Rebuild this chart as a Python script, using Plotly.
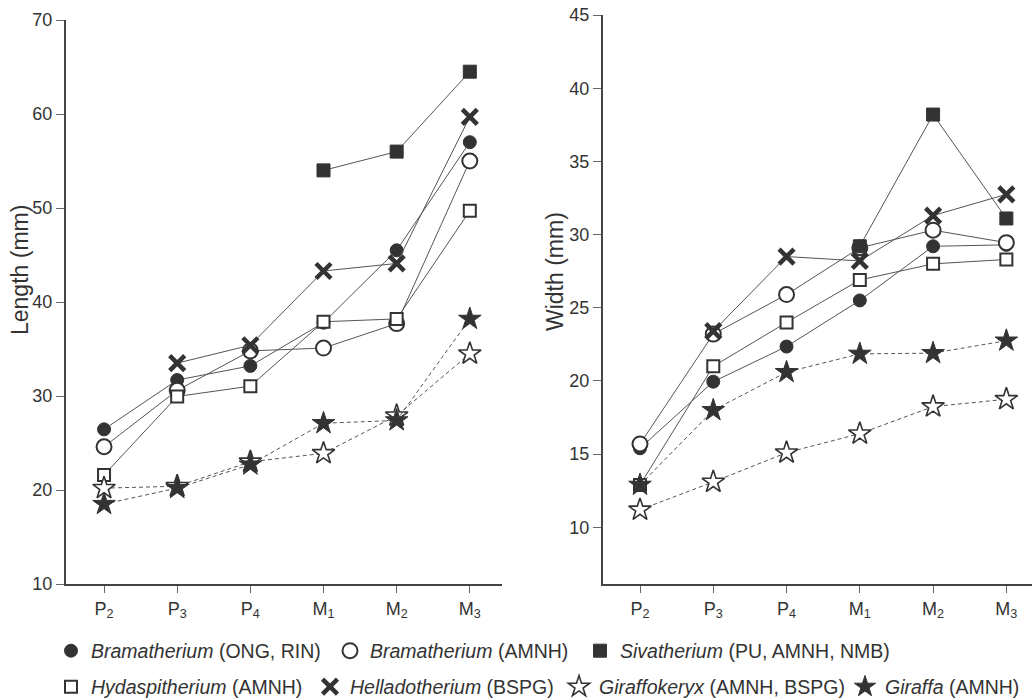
import plotly.graph_objects as go

teeth = ["P2", "P3", "P4", "M1", "M2", "M3"]
tick_labels = ["P<sub>2</sub>", "P<sub>3</sub>", "P<sub>4</sub>", "M<sub>1</sub>", "M<sub>2</sub>", "M<sub>3</sub>"]

series_names = [
    "<i>Bramatherium</i> (ONG, RIN)",
    "<i>Bramatherium</i> (AMNH)",
    "<i>Sivatherium</i> (PU, AMNH, NMB)",
    "<i>Hydaspitherium</i> (AMNH)",
    "<i>Helladotherium</i> (BSPG)",
    "<i>Giraffokeryx</i> (AMNH, BSPG)",
    "<i>Giraffa</i> (AMNH)",
]

# Length (mm)
len_bram_ong = [26.45, 31.7, 33.2, 37.8, 45.5, 57.0]
len_bram_amnh = [24.6, 30.6, 34.8, 35.1, 37.7, 55.0]
len_siva = [None, None, None, 54.0, 56.0, 64.5]
len_hydas = [21.6, 29.95, 31.05, 37.9, 38.2, 49.7]
len_hellado = [None, 33.5, 35.4, 43.3, 44.1, 59.7]
len_giraffokeryx = [20.2, 20.4, 23.0, 23.9, 27.9, 34.5]
len_giraffa = [18.5, 20.2, 22.7, 27.1, 27.4, 38.2]

# Width (mm)
wid_bram_ong = [15.4, 19.95, 22.35, 25.5, 29.2, 29.3]
wid_bram_amnh = [15.7, 23.2, 25.9, 29.1, 30.3, 29.45]
wid_siva = [None, None, None, 29.2, 38.2, 31.1]
wid_hydas = [12.9, 21.0, 24.0, 26.9, 28.0, 28.3]
wid_hellado = [None, 23.4, 28.5, 28.2, 31.3, 32.75]
wid_giraffokeryx = [11.2, 13.1, 15.1, 16.4, 18.25, 18.75]
wid_giraffa = [12.9, 18.0, 20.6, 21.85, 21.9, 22.75]

length_data = [len_bram_ong, len_bram_amnh, len_siva, len_hydas, len_hellado, len_giraffokeryx, len_giraffa]
width_data = [wid_bram_ong, wid_bram_amnh, wid_siva, wid_hydas, wid_hellado, wid_giraffokeryx, wid_giraffa]

DARK = "#333333"
LINE = "#555555"
FONT = "Liberation Sans, Arial, sans-serif"

markers = [
    dict(symbol="circle", size=13, color=DARK, line=dict(color=DARK, width=1)),
    dict(symbol="circle", size=15, color="white", line=dict(color=DARK, width=2)),
    dict(symbol="square", size=13, color=DARK, line=dict(color=DARK, width=1)),
    dict(symbol="square", size=12, color="white", line=dict(color=DARK, width=2)),
    dict(symbol="x-thin", size=15, color=DARK, line=dict(color=DARK, width=4.5)),
    dict(symbol="star", size=17, color="white", line=dict(color=DARK, width=1.6)),
    dict(symbol="star", size=17, color=DARK, line=dict(color=DARK, width=1)),
]
dashes = ["solid", "solid", "solid", "solid", "solid", "4px,3px", "4px,3px"]

xpos = list(range(len(teeth)))

fig = go.Figure()

for data, xa, ya in [(length_data, "x", "y"), (width_data, "x2", "y2")]:
    for i, vals in enumerate(data):
        fig.add_trace(go.Scatter(
            x=xpos, y=vals, mode="lines+markers", xaxis=xa, yaxis=ya,
            line=dict(color=LINE, width=1, dash=dashes[i]),
            marker=markers[i], showlegend=False, connectgaps=False,
            name=series_names[i],
        ))

# legend entries (one legend per entry for exact placement)
legend_ids = ["legend", "legend2", "legend3", "legend4", "legend5", "legend6", "legend7"]
text_x = [89, 368, 618, 89, 348, 597, 883]
row_y = [651, 651, 651, 687, 687, 687, 687]
W, H = 1032, 700
layout_legends = {}
for i, name in enumerate(series_names):
    fig.add_trace(go.Scatter(
        x=[None], y=[None], mode="markers", marker=markers[i], name=name,
        legend=legend_ids[i], showlegend=True, xaxis="x", yaxis="y",
    ))
    layout_legends[legend_ids[i]] = dict(
        x=(text_x[i] - 38) / W, y=(H - row_y[i]) / H, xanchor="left", yanchor="middle",
        orientation="h", bgcolor="rgba(0,0,0,0)", borderwidth=0,
        font=dict(family=FONT, size=19.5, color=DARK), itemwidth=30,
    )

axis_common = dict(
    showline=True, linewidth=2, linecolor="#444444", showgrid=False, zeroline=False,
    ticks="outside", tickcolor="#666666", tickwidth=1,
    tickfont=dict(family=FONT, size=18, color=DARK),
)

fig.update_layout(
    width=W, height=H,
    margin=dict(l=0, r=0, t=0, b=0, autoexpand=False),
    paper_bgcolor="white", plot_bgcolor="white",
    font=dict(family=FONT, color=DARK),
    xaxis=dict(domain=[66 / W, 502 / W], range=[-0.52, 5.44], tickvals=xpos, ticktext=tick_labels,
               ticklen=7, anchor="y", **axis_common),
    yaxis=dict(domain=[(H - 584) / H, (H - 20) / H], range=[10, 70], dtick=10, tick0=0,
               ticklen=8, anchor="x", **axis_common),
    xaxis2=dict(domain=[603 / W, 1.0], range=[-0.505, 5.35], tickvals=xpos, ticktext=tick_labels,
                ticklen=7, anchor="y2", **axis_common),
    yaxis2=dict(domain=[(H - 584) / H, (H - 15) / H], range=[6.13, 45], dtick=5, tick0=0,
                ticklen=8, anchor="x2", **axis_common),
    annotations=[
        dict(text="Length (mm)", x=20 / W, y=(H - 270) / H, xref="paper", yref="paper",
             textangle=-90, showarrow=False, font=dict(family=FONT, size=23, color=DARK),
             xanchor="center", yanchor="middle"),
        dict(text="Width (mm)", x=555 / W, y=(H - 272) / H, xref="paper", yref="paper",
             textangle=-90, showarrow=False, font=dict(family=FONT, size=23, color=DARK),
             xanchor="center", yanchor="middle"),
    ],
    **layout_legends,
)

fig.write_html(
    "out.html",
    config={"displayModeBar": False},
    post_script="document.body.style.margin='0';document.body.style.overflow='hidden';",
)
